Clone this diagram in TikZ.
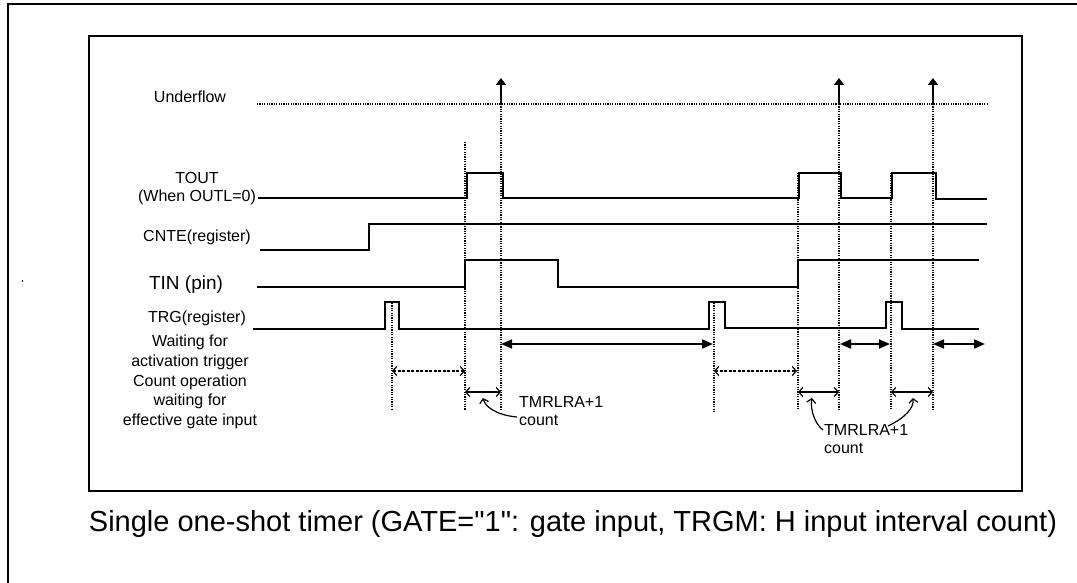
\documentclass[tikz,border=0pt]{standalone}
\usepackage{fontspec}
\setmainfont{Liberation Sans}
\newfontfamily\capfont{Liberation Sans}
\usetikzlibrary{arrows.meta}
\begin{document}
\begin{tikzpicture}[x=1pt,y=-1pt,
 sig/.style={line width=1.8pt},
 vdot/.style={line width=1.3pt, dash pattern=on 1.2pt off 1.2pt},
 lbl/.style={font=\fontsize{16}{18}\selectfont, inner sep=0pt},
 big/.style={line width=1.8pt, {Triangle[length=11pt,width=9pt]}-{Triangle[length=11pt,width=9pt]}},
 small/.style={line width=1.2pt, {Straight Barb[length=4pt,width=9pt]}-{Straight Barb[length=4pt,width=9pt]}},
 dsmall/.style={small, dash pattern=on 3pt off 1.5pt},
 curv/.style={line width=1.2pt, -{Straight Barb[length=4pt,width=9pt]}},
 uf/.style={line width=1.6pt, -{Triangle[length=7pt,width=10pt]}}
]
\useasboundingbox (0,0) rectangle (1077,583);
% frames
\draw[line width=1.8pt] (8,583) -- (8,4) -- (1077,4);
\draw[line width=1.5pt] (89,36) rectangle (1022,491);
\fill (21.5,280) rectangle (22.5,282);

% labels
\node[lbl] (uflab) at (190,97) {Underflow};
\node[lbl, align=center] (toutlab) at (197,189) {TOUT\\(When OUTL=0)};
\node[lbl] (cntelab) at (197,237) {CNTE(register)};
\node[lbl, font=\fontsize{19}{22}\selectfont] (tinlab) at (186,285) {TIN (pin)};
\node[lbl] (trglab) at (197,318) {TRG(register)};
\node[lbl, align=center, font=\fontsize{16}{19.7}\selectfont] (waitlab) at (190,382) {Waiting for\\activation trigger\\Count operation\\waiting for\\effective gate input};

% signals
\draw[sig] (258,198) -- (467,198) -- (467,173) -- (503,173) -- (503,198) -- (799,198) -- (799,173) -- (841,173) -- (841,198) -- (892,198) -- (892,173) -- (936,173) -- (936,199) -- (987,199);
\draw[sig] (260,250) -- (369,250) -- (369,224) -- (987,224);
\draw[sig] (257,287) -- (465,287) -- (465,260) -- (558,260) -- (558,287) -- (798,287) -- (798,260) -- (979,260);
\draw[sig] (253,329) -- (385,329) -- (385,302) -- (399,302) -- (399,329) -- (709,329) -- (709,302) -- (725,302) -- (725,328) -- (886,328) -- (886,302) -- (902,302) -- (902,329) -- (979,329);

% underflow
\draw[vdot] (257,104) -- (987,104);
\foreach \x in {501,839,933} \draw[uf] (\x,104) -- (\x,78);

% vertical dotted
\draw[vdot] (392,303) -- (392,410);
\draw[vdot] (465,142) -- (465,410);
\draw[vdot] (501,104) -- (501,410);
\draw[vdot] (714,303) -- (714,412);
\draw[vdot] (798,173) -- (798,410);
\draw[vdot] (839,104) -- (839,410);
\draw[vdot] (891,173) -- (891,410);
\draw[vdot] (933,104) -- (933,410);

% interval arrows
\draw[big] (501,344) -- (713,344);
\draw[big] (840,344) -- (890,344);
\draw[big] (933,344) -- (985,344);
\draw[dsmall] (392,371) -- (465,371);
\draw[dsmall] (714,371) -- (797,371);
\draw[small] (465,392) -- (501,392);
\draw[small] (798,392) -- (839,392);
\draw[small] (891,392) -- (933,392);

% count labels
\node[lbl, align=left, anchor=north west] (c1) at (519,396) {TMRLRA+1\\count};
\node[lbl, align=left, anchor=north west] (c2) at (824,424) {TMRLRA+1\\count};
\draw[curv] (517,417) .. controls (495,415) and (485,406) .. (483,398);
\draw[curv] (823,430) .. controls (815,424) and (810,410) .. (812,398);
\draw[curv] (888,426) .. controls (905,418) and (914,408) .. (913,398);

% caption
\node[font=\capfont\fontsize{29}{33}\selectfont, anchor=base, inner sep=0pt] (cap) at (573,531) {Single one-shot timer (GATE="1": gate input, TRGM: H input interval count)};
\end{tikzpicture}
\end{document}
